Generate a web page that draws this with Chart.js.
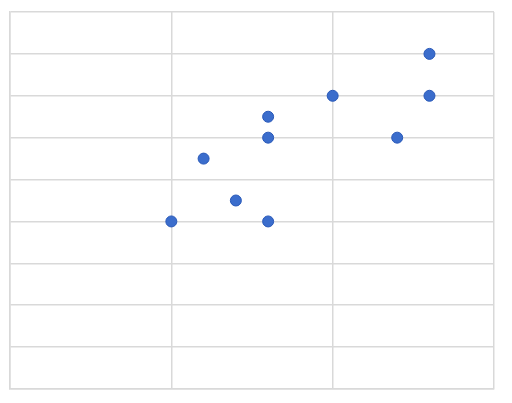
<!DOCTYPE html>
<html>
<head>
<meta charset="utf-8">
<script src="https://cdn.jsdelivr.net/npm/chart.js@4"></script>
<style>
  html, body { margin: 0; padding: 0; background: #fff; }
  #wrap { width: 512px; height: 403px; }
</style>
</head>
<body>
<div id="wrap"><canvas id="myScatter"></canvas></div>
<script>
// data
const xValues = [5, 6, 7, 8, 8, 8, 10, 12, 13, 13];
const yValues = [4, 5.5, 4.5, 6.5, 6, 4, 7, 6, 8, 7];

const points = xValues.map((x, i) => ({ x: x, y: yValues[i] }));

const gridColor = "#d9d9d9";

const ctx = document.getElementById("myScatter");
const myChart = new Chart(ctx, {
  type: "scatter",
  data: {
    datasets: [
      {
        data: points,
        backgroundColor: "#3b6dcc",
        borderColor: "#2858b8",
        borderWidth: 1,
        pointRadius: 5.5,
        pointHoverRadius: 5.5,
      },
    ],
  },
  options: {
    responsive: true,
    maintainAspectRatio: false,
    animation: false,
    layout: {
      padding: { left: 10, top: 12, right: 18, bottom: 14 },
    },
    plugins: {
      legend: { display: false },
      tooltip: { enabled: false },
    },
    scales: {
      x: {
        type: "linear",
        min: 0,
        max: 15,
        ticks: { display: false, stepSize: 5 },
        grid: { color: gridColor, lineWidth: 1.5, drawTicks: false },
        border: { color: gridColor, width: 1.5 },
      },
      y: {
        type: "linear",
        min: 0,
        max: 9,
        ticks: { display: false, stepSize: 1 },
        grid: { color: gridColor, lineWidth: 1.5, drawTicks: false },
        border: { color: gridColor, width: 1.5 },
      },
    },
  },
});
</script>
</body>
</html>
